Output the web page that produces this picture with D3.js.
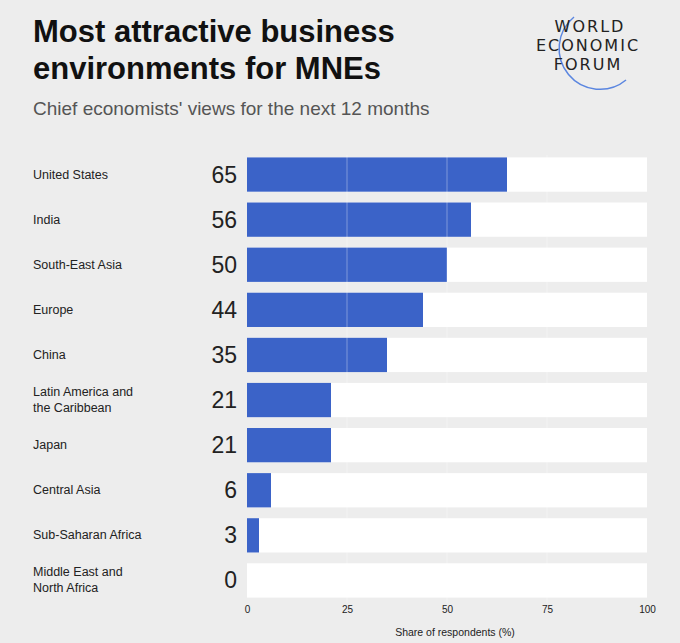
<!DOCTYPE html>
<html><head><meta charset="utf-8">
<script src="https://cdn.jsdelivr.net/npm/d3@7"></script>
<style>body{margin:0;background:#ededed;}svg{display:block;font-family:"Liberation Sans",Arial,sans-serif;}</style>
</head><body><div id="chart"></div>
<script>
var regions = [["United States"], ["India"], ["South-East Asia"], ["Europe"], ["China"],
  ["Latin America and", "the Caribbean"], ["Japan"], ["Central Asia"], ["Sub-Saharan Africa"],
  ["Middle East and", "North Africa"]];
var shares = [65, 56, 50, 44, 35, 21, 21, 6, 3, 0];
var ticks = [0, 25, 50, 75, 100];

var width = 680, height = 643;
var svg = d3.select('#chart').append('svg').attr('width', width).attr('height', height);
svg.append('rect').attr('width', width).attr('height', height).attr('fill', '#ededed');

svg.append('text').attr('x', 33).attr('y', 42).attr('font-size', 31).attr('font-weight', 'bold')
  .attr('fill', '#111').text('Most attractive business');
svg.append('text').attr('x', 33).attr('y', 79).attr('font-size', 31).attr('font-weight', 'bold')
  .attr('fill', '#111').text('environments for MNEs');
svg.append('text').attr('x', 33).attr('y', 115).attr('font-size', 19)
  .attr('fill', '#555').text("Chief economists' views for the next 12 months");

// logo
var logo = svg.append('g').attr('font-family', 'DejaVu Sans').attr('fill', '#222')
  .attr('font-size', 16).attr('text-anchor', 'middle').attr('letter-spacing', 2);
logo.append('path').attr('d', 'M574,17 A40,40 0 0 0 626,80').attr('fill', 'none')
  .attr('stroke', '#5b86e0').attr('stroke-width', 1.5);
logo.append('text').attr('x', 590).attr('y', 32).text('WORLD');
logo.append('text').attr('x', 588).attr('y', 51).text('ECONOMIC');
logo.append('text').attr('x', 588).attr('y', 70).text('FORUM');

var x = d3.scaleLinear().domain([0, 100]).range([247, 647]);
var y = d3.scaleBand().domain(d3.range(regions.length)).range([152, 603]).paddingInner(0.24).paddingOuter(0.12);

var rows = svg.selectAll('g.row').data(shares).join('g').attr('class', 'row');
rows.append('rect').attr('x', x(0)).attr('y', function(d, i) { return y(i); })
  .attr('width', x(100) - x(0)).attr('height', y.bandwidth()).attr('fill', '#fff');
rows.append('rect').attr('x', x(0)).attr('y', function(d, i) { return y(i); })
  .attr('width', function(d) { return x(d) - x(0); }).attr('height', y.bandwidth()).attr('fill', '#3b63c8');
rows.append('text').attr('x', 237).attr('y', function(d, i) { return y(i) + y.bandwidth() / 2 + 8; })
  .attr('text-anchor', 'end').attr('font-size', 23).attr('fill', '#222').text(function(d) { return d; });
rows.each(function(d, i) {
  var lines = regions[i];
  var t = d3.select(this).append('text').attr('x', 33).attr('font-size', 12.5).attr('fill', '#222');
  lines.forEach(function(l, j) {
    t.append('tspan').attr('x', 33)
      .attr('y', y(i) + y.bandwidth() / 2 + 4 + (j - (lines.length - 1) / 2) * 16).text(l);
  });
});

// faint gridlines
svg.selectAll('line.grid').data(ticks.slice(1, 4)).join('line').attr('class', 'grid')
  .attr('x1', function(d) { return x(d); }).attr('x2', function(d) { return x(d); })
  .attr('y1', 155).attr('y2', 603).attr('stroke', '#fff').attr('stroke-opacity', 0.35);

var axis = d3.axisBottom(x).tickValues(ticks).tickSize(0).tickPadding(6);
var ag = svg.append('g').attr('transform', 'translate(0,600)').call(axis);
ag.select('.domain').remove();
ag.selectAll('text').attr('font-size', 10).attr('fill', '#222').attr('font-family', 'Liberation Sans');
svg.append('text').attr('x', 455).attr('y', 636).attr('text-anchor', 'middle').attr('font-size', 10.5)
  .attr('fill', '#222').text('Share of respondents (%)');
</script></body></html>
